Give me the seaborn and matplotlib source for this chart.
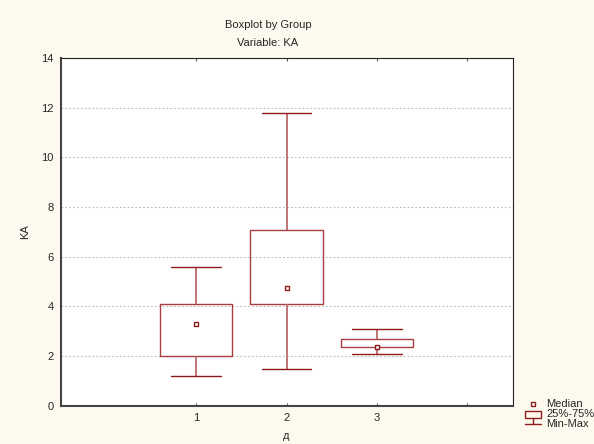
import matplotlib
matplotlib.use("Agg")
import matplotlib.pyplot as plt
import seaborn as sns
import pandas as pd
import numpy as np

# values (per group: min, q25, median, q75, max)
groups = ["1", "2", "3"]
mins = [1.2, 1.5, 2.1]
q25 = [2.0, 4.1, 2.37]
medians = [3.3, 4.75, 2.35]
q75 = [4.1, 7.1, 2.7]
maxs = [5.6, 11.8, 3.1]

# five points per group -> linear percentiles give exactly these quartiles
rows = []
for g, a, b, c, d, e in zip(groups, mins, q25, medians, q75, maxs):
    for v in sorted([a, b, c, d, e]):
        rows.append({"д": g, "KA": v})
df = pd.DataFrame(rows)
med_df = pd.DataFrame({"д": groups, "KA": medians})

red = "#8E1B1B"
bg = "#FDF9EE"

sns.set_style("white")
plt.rcParams["font.family"] = ["Liberation Sans", "DejaVu Sans"]
plt.rcParams["font.size"] = 8

fig = plt.figure(figsize=(5.94, 4.44), dpi=100, facecolor=bg)
ax = fig.add_axes([0.102, 0.086, 0.761, 0.783])
ax.set_facecolor("white")

sns.boxplot(data=df, x="д", y="KA", order=groups, whis=(0, 100), width=0.8,
            fill=False, color=red, linewidth=1, showfliers=False,
            medianprops={"visible": False},
            boxprops={"color": "#A84040"},
            whiskerprops={"color": "#B86A6A", "linewidth": 1.3},
            capwidths=0.55, ax=ax)
sns.stripplot(data=med_df, x="д", y="KA", order=groups, jitter=False,
              marker="s", size=3.5, color="white", edgecolor=red,
              linewidth=1, ax=ax, zorder=5)

ax.set_xlim(-1.5, 3.5)
ax.set_ylim(0, 14)
ax.set_yticks(np.arange(0, 15, 2))
ax.set_xticks([0, 1, 2, 3])
ax.set_xticklabels(groups + [""])
ax.tick_params(axis="y", length=0, pad=5, labelsize=8)
ax.tick_params(axis="x", direction="in", length=2, pad=5, labelsize=8,
               top=True, bottom=True, color="#555555")
for y in range(2, 14, 2):
    ax.axhline(y, color="#BBBBBB", linestyle=(0, (1.5, 2)), linewidth=0.8, zorder=0)

for side in ["left", "bottom"]:
    ax.spines[side].set_color("#444444")
    ax.spines[side].set_linewidth(1.5)
for side in ["top", "right"]:
    ax.spines[side].set_color("#222222")
    ax.spines[side].set_linewidth(0.8)

ax.set_xlabel("д", fontsize=8, labelpad=6)
ax.set_ylabel("KA", fontsize=8, labelpad=8)

fig.text(268 / 594, 1 - 25 / 444, "Boxplot by Group", ha="center", va="center", fontsize=8)
fig.text(268 / 594, 1 - 43 / 444, "Variable: KA", ha="center", va="center", fontsize=8)

# legend glyphs in a small overlay axes (pixel coords)
lg = fig.add_axes([0, 0, 1, 1], facecolor="none")
lg.set_xlim(0, 594)
lg.set_ylim(444, 0)
lg.axis("off")
lg.plot([533], [404], marker="s", ms=3.5, mfc="white", mec=red, mew=1)
lg.add_patch(plt.Rectangle((525, 410.5), 16, 7, fill=False, ec=red, lw=1))
lg.plot([533, 533], [417.5, 424], color=red, lw=1)
lg.plot([525, 541], [424, 424], color=red, lw=1)
for yy, txt in [(403.5, "Median"), (413.5, "25%-75%"), (423.5, "Min-Max")]:
    lg.text(546, yy, txt, ha="left", va="center", fontsize=8)

fig.savefig("out.png", dpi=100, facecolor=bg)
